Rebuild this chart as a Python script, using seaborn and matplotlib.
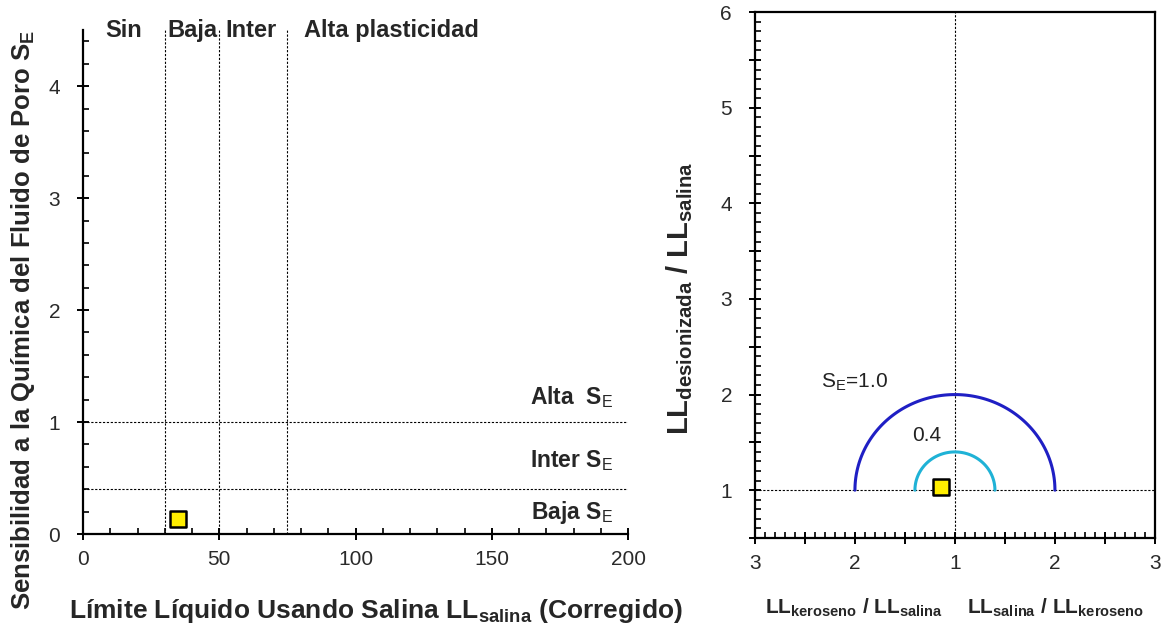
import numpy as np
import pandas as pd
import matplotlib
matplotlib.use("Agg")
import matplotlib.pyplot as plt
from matplotlib.ticker import MultipleLocator, FixedLocator, FuncFormatter
import seaborn as sns

# --- data ---------------------------------------------------------------
# plasticity boundaries (LL_salina) and sensitivity boundaries (S_E)
ll_bounds = [30, 50, 75]
se_bounds = [0.4, 1.0]
plast_labels = ["Sin", "Baja", "Inter", "Alta plasticidad"]
plast_label_x = [15, 40, 61.5, 81]
se_labels = ["Baja", "Inter", "Alta "]
se_label_y = [0.19, 0.66, 1.22]

# sample: LL_salina vs S_E
sample_ll = [35]
sample_se = [0.13]

# sample in the ratio chart: signed offset of LL ratio from 1, LL_desionizada/LL_salina
sample_ratio_x = [-0.14]
sample_ratio_y = [1.03]

# S_E contour levels
se_levels = [1.0, 0.4]
se_colors = ["#1f1fc4", "#1fb2d6"]

# ratio axis: printed value is |offset| + 1 on both sides of the centre
ratio_half_step = 0.5

# --- style --------------------------------------------------------------
sns.set_theme(style="ticks")
plt.rcParams["font.family"] = ["Liberation Sans", "DejaVu Sans"]
plt.rcParams["mathtext.fontset"] = "custom"
plt.rcParams["mathtext.rm"] = "Liberation Sans"
plt.rcParams["mathtext.it"] = "Liberation Sans"
plt.rcParams["mathtext.bf"] = "Liberation Sans:bold"

TICK_COLOR = "#2a2a2a"
DASH = (0, (2, 1.5))
fig = plt.figure(figsize=(11.73, 6.29), dpi=100)

ax1 = fig.add_axes([0.0708, 0.151, 0.4646, 0.801])
ax2 = fig.add_axes([0.6436, 0.1447, 0.341, 0.836])


def style_ticks(ax):
    ax.tick_params(which="major", direction="inout", length=9, width=1.4,
                   labelsize=15, labelcolor=TICK_COLOR, color="black", pad=7)
    ax.tick_params(axis="y", which="major", pad=12)
    ax.tick_params(which="minor", direction="in", length=4, width=1.2, color="black")
    for sp in ax.spines.values():
        sp.set_linewidth(1.6)
        sp.set_color("black")


def integer_only(v, _pos):
    return f"{int(round(v))}" if abs(v - round(v)) < 1e-6 else ""


def ratio_label(v, _pos):
    return f"{int(round(abs(v) + 1))}" if abs(v - round(v)) < 1e-6 else ""


# --- left: S_E vs LL_salina ----------------------------------------------
ax1.set_xlim(0, 200)
ax1.set_ylim(0, 4.5)
for xb in ll_bounds:
    ax1.axvline(xb, color="black", lw=0.8, ls=DASH, zorder=1)
for yb in se_bounds:
    ax1.axhline(yb, color="black", lw=0.8, ls=DASH, zorder=1)

df1 = pd.DataFrame({"ll": sample_ll, "se": sample_se})
sns.scatterplot(data=df1, x="ll", y="se", ax=ax1, marker="s", s=120,
                color="#ffee00", edgecolor="black", linewidth=1.8, zorder=5)

ax1.xaxis.set_major_locator(MultipleLocator(50))
ax1.xaxis.set_minor_locator(MultipleLocator(10))
ax1.yaxis.set_major_locator(FixedLocator([0, 1, 2, 3, 4]))
ax1.yaxis.set_minor_locator(MultipleLocator(0.2))
style_ticks(ax1)
sns.despine(ax=ax1)

for lab, xv in zip(plast_labels, plast_label_x):
    ax1.text(xv, 4.5, lab, fontsize=17, fontweight="bold",
             ha="left" if xv > 70 else "center", va="center", clip_on=False)
for lab, yv in zip(se_labels, se_label_y):
    ax1.text(194.5, yv, lab + r" $\mathbf{S}_{\mathrm{E}}$", fontsize=16.5,
             fontweight="bold", ha="right", va="center")

ax1.set_xlabel(r"Límite Líquido Usando Salina LL$_{\mathbf{salina}}$ (Corregido)",
               fontsize=19, fontweight="bold")
ax1.xaxis.set_label_coords(0.538, -0.125)
ax1.set_ylabel(r"Sensibilidad a la Química del Fluido de Poro $\mathbf{S_E}$",
               fontsize=18.5, fontweight="bold")
ax1.yaxis.set_label_coords(-0.085, 0.425)

# --- right: ratio chart ----------------------------------------------------
ax2.set_xlim(-2, 2)
ax2.set_ylim(0.5, 6)
ax2.axvline(0, color="black", lw=0.8, ls=DASH, zorder=1)
ax2.axhline(1, color="black", lw=0.8, ls=DASH, zorder=1)

theta = np.linspace(np.pi, 0, 121)
arcs = pd.concat([
    pd.DataFrame({"u": lvl * np.cos(theta), "v": 1 + lvl * np.sin(theta),
                  "nivel": f"{lvl:.1f}"})
    for lvl in se_levels
])
sns.lineplot(data=arcs, x="u", y="v", hue="nivel", palette=se_colors,
             sort=False, estimator=None, lw=2.2, legend=False, ax=ax2, zorder=3)

df2 = pd.DataFrame({"u": sample_ratio_x, "v": sample_ratio_y})
sns.scatterplot(data=df2, x="u", y="v", ax=ax2, marker="s", s=120,
                color="#ffee00", edgecolor="black", linewidth=1.8, zorder=5)

ax2.text(-1.0, 2.13, r"S$_{\mathrm{E}}$=1.0", fontsize=15, color="#222222",
         ha="center", va="center")
ax2.text(-0.28, 1.57, "0.4", fontsize=15, color="#222222", ha="center", va="center")

ax2.xaxis.set_major_locator(MultipleLocator(ratio_half_step))
ax2.xaxis.set_major_formatter(FuncFormatter(ratio_label))
ax2.xaxis.set_minor_locator(MultipleLocator(0.1))
ax2.yaxis.set_major_locator(MultipleLocator(ratio_half_step))
ax2.yaxis.set_major_formatter(FuncFormatter(integer_only))
ax2.yaxis.set_minor_locator(MultipleLocator(0.1))
style_ticks(ax2)

ax2.set_xlabel("")
ax2.set_ylabel(r"LL$_{\mathbf{desionizada}}$ / LL$_{\mathbf{salina}}$",
               fontsize=21, fontweight="bold")
ax2.yaxis.set_label_coords(-0.15, 0.456)
ax2.text(-1.01, -0.133, r"LL$_{\mathbf{keroseno}}$ / LL$_{\mathbf{salina}}$",
         transform=ax2.get_xaxis_transform(), fontsize=15, fontweight="bold",
         ha="center", va="center")
ax2.text(1.01, -0.133, r"LL$_{\mathbf{salina}}$ / LL$_{\mathbf{keroseno}}$",
         transform=ax2.get_xaxis_transform(), fontsize=15, fontweight="bold",
         ha="center", va="center")

fig.savefig("out.png", dpi=100)
